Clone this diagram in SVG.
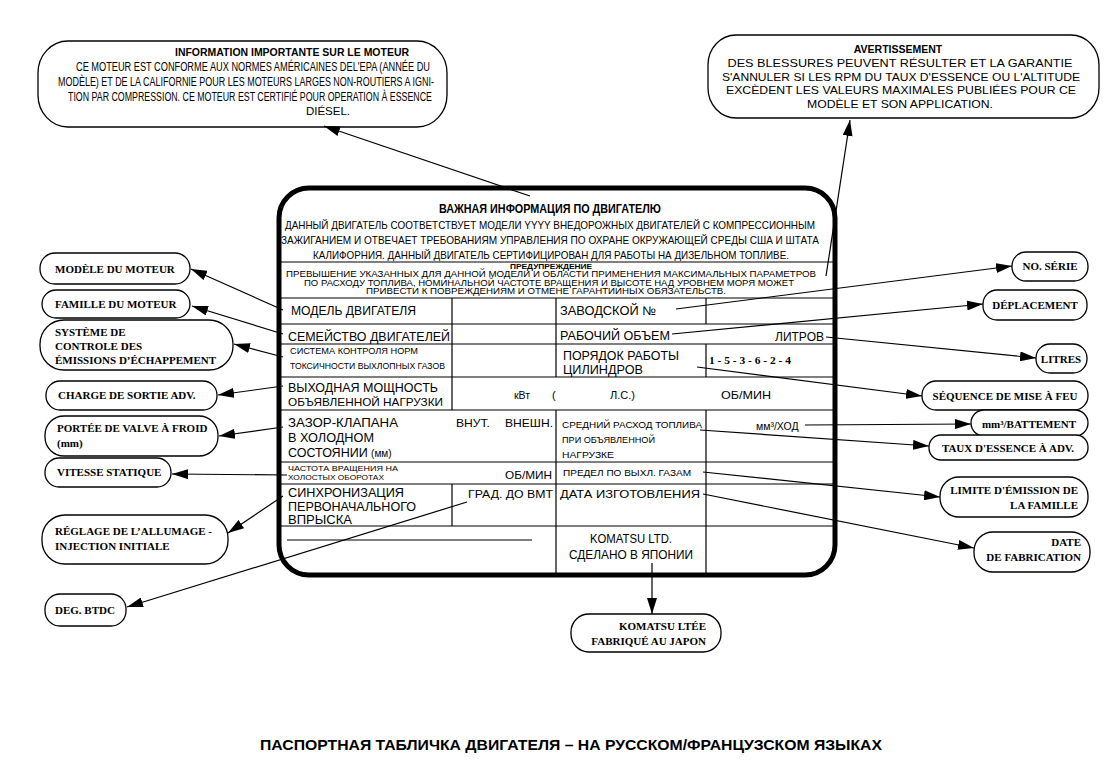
<svg xmlns="http://www.w3.org/2000/svg" width="1111" height="777" viewBox="0 0 1111 777">
<defs>
<marker id="ah" viewBox="0 0 16 10" refX="16" refY="5" markerWidth="16" markerHeight="10" markerUnits="userSpaceOnUse" orient="auto"><path d="M0,0 L16,5 L0,10 z" fill="#000"/></marker>
<style>
.bub{fill:#fff;stroke:#000;stroke-width:1.3}
.plate{fill:#fff;stroke:#000;stroke-width:5}
.rl{stroke:#000;stroke-width:1.2;fill:none}
.con{stroke:#000;stroke-width:1.2;fill:none;marker-end:url(#ah)}
.s{font-family:"Liberation Sans",Arial,sans-serif;fill:#000}
.sb{font-family:"Liberation Sans",Arial,sans-serif;font-weight:bold;fill:#000}
.f{font-family:"Liberation Serif","Times New Roman",serif;font-weight:bold;font-size:11px;fill:#000}
.m{text-anchor:middle}
.e{text-anchor:end}
</style>
</defs>
<rect width="1111" height="777" fill="#fff"/>

<g id="info-fr">
<rect class="bub" x="38" y="41" width="409" height="86" rx="30" ry="32"/>
<text class="sb m" x="292" y="56" font-size="11" textLength="234" lengthAdjust="spacingAndGlyphs">INFORMATION IMPORTANTE SUR LE MOTEUR</text>
<text class="s" x="76" y="71" font-size="12" textLength="354" lengthAdjust="spacingAndGlyphs">CE MOTEUR EST CONFORME AUX NORMES AMÉRICAINES DEL'EPA (ANNÉE DU</text>
<text class="s" x="58" y="86" font-size="12" textLength="376" lengthAdjust="spacingAndGlyphs">MODÈLE) ET DE LA CALIFORNIE POUR LES MOTEURS LARGES NON-ROUTIERS A IGNI-</text>
<text class="s" x="68" y="101" font-size="12" textLength="364" lengthAdjust="spacingAndGlyphs">TION PAR COMPRESSION.  CE MOTEUR EST CERTIFIÉ POUR OPERATION À ESSENCE</text>
<text class="s m" x="328" y="115" font-size="11.5">DIÉSEL.</text>
</g>

<g id="avert-fr">
<rect class="bub" x="708" y="35" width="391" height="83" rx="28" ry="30"/>
<text class="sb m" x="898" y="53" font-size="10.5">AVERTISSEMENT</text>
<text class="s m" x="900" y="67" font-size="11.5" textLength="345" lengthAdjust="spacingAndGlyphs">DES BLESSURES PEUVENT RÉSULTER ET LA GARANTIE</text>
<text class="s m" x="901" y="81" font-size="11.5" textLength="358" lengthAdjust="spacingAndGlyphs">S'ANNULER SI LES RPM DU TAUX D'ESSENCE OU L'ALTITUDE</text>
<text class="s m" x="901" y="94" font-size="11.5" textLength="350" lengthAdjust="spacingAndGlyphs">EXCÈDENT LES VALEURS MAXIMALES PUBLIÉES POUR CE</text>
<text class="s m" x="900" y="108" font-size="11.5" textLength="186" lengthAdjust="spacingAndGlyphs">MODÈLE ET SON APPLICATION.</text>
</g>

<g id="plate">
<rect class="plate" x="279" y="188" width="556" height="387" rx="30" ry="30"/>
<text class="sb m" x="550" y="213" font-size="12.5" textLength="222" lengthAdjust="spacingAndGlyphs">ВАЖНАЯ ИНФОРМАЦИЯ ПО ДВИГАТЕЛЮ</text>
<text class="s m" x="550" y="229" font-size="10.5" textLength="530" lengthAdjust="spacingAndGlyphs">ДАННЫЙ ДВИГАТЕЛЬ СООТВЕТСТВУЕТ МОДЕЛИ YYYY ВНЕДОРОЖНЫХ ДВИГАТЕЛЕЙ С КОМПРЕССИОННЫМ</text>
<text class="s m" x="550" y="244" font-size="10.5" textLength="538" lengthAdjust="spacingAndGlyphs">ЗАЖИГАНИЕМ И ОТВЕЧАЕТ ТРЕБОВАНИЯМ УПРАВЛЕНИЯ ПО ОХРАНЕ ОКРУЖАЮЩЕЙ СРЕДЫ США И ШТАТА</text>
<text class="s m" x="551" y="259" font-size="10.5" textLength="476" lengthAdjust="spacingAndGlyphs">КАЛИФОРНИЯ. ДАННЫЙ ДВИГАТЕЛЬ СЕРТИФИЦИРОВАН ДЛЯ РАБОТЫ НА ДИЗЕЛЬНОМ ТОПЛИВЕ.</text>
<line class="rl" x1="281" y1="262" x2="833" y2="262"/>
<text class="sb m" x="551" y="269" font-size="8" textLength="82" lengthAdjust="spacingAndGlyphs">ПРЕДУПРЕЖДЕНИЕ</text>
<text class="s m" x="551" y="277" font-size="8.5" textLength="530" lengthAdjust="spacingAndGlyphs">ПРЕВЫШЕНИЕ УКАЗАННЫХ ДЛЯ ДАННОЙ МОДЕЛИ И ОБЛАСТИ ПРИМЕНЕНИЯ МАКСИМАЛЬНЫХ ПАРАМЕТРОВ</text>
<text class="s m" x="549" y="285.5" font-size="8.5" textLength="490" lengthAdjust="spacingAndGlyphs">ПО РАСХОДУ ТОПЛИВА, НОМИНАЛЬНОЙ ЧАСТОТЕ ВРАЩЕНИЯ И ВЫСОТЕ НАД УРОВНЕМ МОРЯ МОЖЕТ</text>
<text class="s m" x="546" y="294" font-size="8.5" textLength="360" lengthAdjust="spacingAndGlyphs">ПРИВЕСТИ К ПОВРЕЖДЕНИЯМ И ОТМЕНЕ ГАРАНТИЙНЫХ ОБЯЗАТЕЛЬСТВ.</text>

<line class="rl" x1="281" y1="298" x2="833" y2="298"/>
<line class="rl" x1="281" y1="324" x2="833" y2="324"/>
<line class="rl" x1="281" y1="344" x2="833" y2="344"/>
<line class="rl" x1="281" y1="377" x2="833" y2="377"/>
<line class="rl" x1="281" y1="410" x2="833" y2="410"/>
<line class="rl" x1="281" y1="462" x2="833" y2="462"/>
<line class="rl" x1="281" y1="484" x2="833" y2="484"/>
<line class="rl" x1="281" y1="526" x2="833" y2="526"/>
<line class="rl" x1="287" y1="540" x2="532" y2="540"/>
<line class="rl" x1="452" y1="298" x2="452" y2="410"/>
<line class="rl" x1="452" y1="484" x2="452" y2="526"/>
<line class="rl" x1="556" y1="298" x2="556" y2="377"/>
<line class="rl" x1="556" y1="410" x2="556" y2="573"/>
<line class="rl" x1="706" y1="298" x2="706" y2="324"/>
<line class="rl" x1="706" y1="344" x2="706" y2="377"/>
<line class="rl" x1="706" y1="410" x2="706" y2="573"/>

<text class="s" x="291" y="315" font-size="12.5" textLength="125" lengthAdjust="spacingAndGlyphs">МОДЕЛЬ ДВИГАТЕЛЯ</text>
<text class="s" x="560" y="315" font-size="12.5" textLength="96" lengthAdjust="spacingAndGlyphs">ЗАВОДСКОЙ №</text>
<text class="s" x="288" y="341" font-size="12.5" textLength="162" lengthAdjust="spacingAndGlyphs">СЕМЕЙСТВО ДВИГАТЕЛЕЙ</text>
<text class="s" x="560" y="340" font-size="12.5" textLength="110" lengthAdjust="spacingAndGlyphs">РАБОЧИЙ ОБЪЕМ</text>
<text class="s e" x="824" y="341" font-size="12.5" textLength="49" lengthAdjust="spacingAndGlyphs">ЛИТРОВ</text>
<text class="s" x="290" y="354" font-size="8.5" textLength="128" lengthAdjust="spacingAndGlyphs">СИСТЕМА КОНТРОЛЯ НОРМ</text>
<text class="s" x="290" y="369" font-size="8.5" textLength="155" lengthAdjust="spacingAndGlyphs">ТОКСИЧНОСТИ ВЫХЛОПНЫХ ГАЗОВ</text>
<text class="s" x="563" y="360" font-size="12.5" textLength="116" lengthAdjust="spacingAndGlyphs">ПОРЯДОК РАБОТЫ</text>
<text class="s" x="563" y="374" font-size="12.5" textLength="80" lengthAdjust="spacingAndGlyphs">ЦИЛИНДРОВ</text>
<text class="f" x="709" y="364" textLength="82" lengthAdjust="spacingAndGlyphs">1 - 5 - 3 - 6 - 2 - 4</text>
<text class="s" x="288" y="392" font-size="13" textLength="150" lengthAdjust="spacingAndGlyphs">ВЫХОДНАЯ МОЩНОСТЬ</text>
<text class="s" x="288" y="406" font-size="11" textLength="155" lengthAdjust="spacingAndGlyphs">ОБЪЯВЛЕННОЙ НАГРУЗКИ</text>
<text class="s" x="514" y="399" font-size="10.5">кВт</text>
<text class="s" x="552" y="399" font-size="11">(</text>
<text class="s" x="610" y="399" font-size="11">Л.С.)</text>
<text class="s" x="721" y="399" font-size="11" textLength="50" lengthAdjust="spacingAndGlyphs">ОБ/МИН</text>
<text class="s" x="288" y="427" font-size="12.5" textLength="110" lengthAdjust="spacingAndGlyphs">ЗАЗОР-КЛАПАНА</text>
<text class="s" x="288" y="442" font-size="12.5" textLength="86" lengthAdjust="spacingAndGlyphs">В ХОЛОДНОМ</text>
<text class="s" x="288" y="457" font-size="12.5">СОСТОЯНИИ <tspan font-size="10">(мм)</tspan></text>
<text class="s" x="456" y="427" font-size="11.5" textLength="34" lengthAdjust="spacingAndGlyphs">ВНУТ.</text>
<text class="s" x="505" y="427" font-size="11.5" textLength="48" lengthAdjust="spacingAndGlyphs">ВНЕШН.</text>
<text class="s" x="562" y="428" font-size="8.5" textLength="140" lengthAdjust="spacingAndGlyphs">СРЕДНИЙ РАСХОД ТОПЛИВА</text>
<text class="s" x="562" y="443" font-size="8.5" textLength="93" lengthAdjust="spacingAndGlyphs">ПРИ ОБЪЯВЛЕННОЙ</text>
<text class="s" x="562" y="458" font-size="8.5" textLength="52" lengthAdjust="spacingAndGlyphs">НАГРУЗКЕ</text>
<text class="s" x="756" y="430" font-size="10.5">мм³/ХОД</text>
<text class="s" x="288" y="470.5" font-size="7" textLength="110" lengthAdjust="spacingAndGlyphs">ЧАСТОТА ВРАЩЕНИЯ НА</text>
<text class="s" x="288" y="479.5" font-size="7" textLength="96" lengthAdjust="spacingAndGlyphs">ХОЛОСТЫХ ОБОРОТАХ</text>
<text class="s" x="505" y="479" font-size="11" textLength="47" lengthAdjust="spacingAndGlyphs">ОБ/МИН</text>
<text class="s" x="563" y="476" font-size="8.5" textLength="128" lengthAdjust="spacingAndGlyphs">ПРЕДЕЛ ПО ВЫХЛ. ГАЗАМ</text>
<text class="s" x="288" y="497" font-size="12" textLength="116" lengthAdjust="spacingAndGlyphs">СИНХРОНИЗАЦИЯ</text>
<text class="s" x="288" y="511" font-size="12" textLength="128" lengthAdjust="spacingAndGlyphs">ПЕРВОНАЧАЛЬНОГО</text>
<text class="s" x="288" y="524" font-size="12" textLength="64" lengthAdjust="spacingAndGlyphs">ВПРЫСКА</text>
<text class="s" x="468" y="498" font-size="11.5" textLength="85" lengthAdjust="spacingAndGlyphs">ГРАД. ДО ВМТ</text>
<text class="s" x="560" y="498" font-size="11.5" textLength="140" lengthAdjust="spacingAndGlyphs">ДАТА ИЗГОТОВЛЕНИЯ</text>
<text class="s m" x="631" y="543" font-size="12" textLength="82" lengthAdjust="spacingAndGlyphs">KOMATSU LTD.</text>
<text class="s m" x="631" y="559" font-size="12" textLength="124" lengthAdjust="spacingAndGlyphs">СДЕЛАНО В ЯПОНИИ</text>
</g>

<g id="modele"><rect class="bub" x="40" y="253" width="150" height="31" rx="15"/><text class="f" x="55" y="273">MODÈLE DU MOTEUR</text></g>
<g id="famille"><rect class="bub" x="42" y="290" width="148" height="28" rx="14"/><text class="f" x="55" y="308">FAMILLE DU MOTEUR</text></g>
<g id="systeme"><rect class="bub" x="40" y="320" width="193" height="50" rx="24"/><text class="f" x="55" y="336">SYSTÈME DE</text><text class="f" x="55" y="350">CONTROLE DES</text><text class="f" x="55" y="364">ÉMISSIONS D’ÉCHAPPEMENT</text></g>
<g id="charge"><rect class="bub" x="46" y="381" width="171" height="29" rx="14"/><text class="f" x="58" y="399">CHARGE DE SORTIE ADV.</text></g>
<g id="portee"><rect class="bub" x="45" y="416" width="173" height="40" rx="19"/><text class="f" x="57" y="432">PORTÉE DE VALVE À FROID</text><text class="f" x="57" y="447">(mm)</text></g>
<g id="vitesse"><rect class="bub" x="45" y="458" width="126" height="29" rx="14"/><text class="f" x="57" y="476">VITESSE STATIQUE</text></g>
<g id="reglage"><rect class="bub" x="42" y="515" width="186" height="49" rx="23"/><text class="f" x="55" y="535">RÉGLAGE DE L’ALLUMAGE -</text><text class="f" x="55" y="550">INJECTION INITIALE</text></g>
<g id="deg"><rect class="bub" x="45" y="594" width="81" height="32" rx="15"/><text class="f" x="55" y="614">DEG. BTDC</text></g>

<g id="serie"><rect class="bub" x="1012" y="252" width="76" height="29" rx="14"/><text class="f m" x="1050" y="270">NO. SÉRIE</text></g>
<g id="deplacement"><rect class="bub" x="983" y="290" width="104" height="30" rx="14"/><text class="f m" x="1035" y="309">DÉPLACEMENT</text></g>
<g id="litres"><rect class="bub" x="1036" y="344" width="51" height="29" rx="14"/><text class="f m" x="1061" y="363">LITRES</text></g>
<g id="sequence"><rect class="bub" x="922" y="381" width="166" height="29" rx="14"/><text class="f m" x="1005" y="400">SÉQUENCE DE MISE À FEU</text></g>
<g id="battement"><rect class="bub" x="971" y="410" width="117" height="26" rx="13"/><text class="f m" x="1029" y="428">mm³/BATTEMENT</text></g>
<g id="taux"><rect class="bub" x="929" y="435" width="159" height="25" rx="12"/><text class="f m" x="1008" y="452">TAUX D'ESSENCE  À ADV.</text></g>
<g id="limite"><rect class="bub" x="940" y="477" width="148" height="40" rx="19"/><text class="f e" x="1078" y="494">LIMITE D'ÉMISSION DE</text><text class="f e" x="1078" y="509">LA FAMILLE</text></g>
<g id="date"><rect class="bub" x="974" y="532" width="116" height="40" rx="19"/><text class="f e" x="1081" y="546">DATE</text><text class="f e" x="1081" y="561">DE FABRICATION</text></g>
<g id="komatsu"><rect class="bub" x="571" y="614" width="150" height="38" rx="18"/><text class="f e" x="706" y="630">KOMATSU LTÉE</text><text class="f e" x="706" y="645">FABRIQUÉ AU JAPON</text></g>

<g id="connectors">
<line class="con" x1="530" y1="196" x2="324" y2="126"/>
<line class="con" x1="826" y1="276" x2="850" y2="120"/>
<line class="con" x1="283" y1="310" x2="191" y2="269"/>
<line class="con" x1="283" y1="334" x2="192" y2="306"/>
<line class="con" x1="283" y1="357" x2="234" y2="344"/>
<line class="con" x1="283" y1="386" x2="218" y2="395"/>
<line class="con" x1="283" y1="427" x2="219" y2="436"/>
<line class="con" x1="287" y1="475" x2="172" y2="474"/>
<line class="con" x1="283" y1="496" x2="228" y2="533"/>
<line class="con" x1="467" y1="502" x2="127" y2="607"/>
<line class="con" x1="676" y1="309" x2="1012" y2="266"/>
<line class="con" x1="672" y1="334" x2="983" y2="304"/>
<line class="con" x1="826" y1="337" x2="1036" y2="358"/>
<line class="con" x1="697" y1="367" x2="922" y2="396"/>
<line class="con" x1="805" y1="425" x2="971" y2="424"/>
<line class="con" x1="700" y1="430" x2="929" y2="446"/>
<line class="con" x1="703" y1="472" x2="940" y2="497"/>
<line class="con" x1="703" y1="494" x2="974" y2="548"/>
<line class="con" x1="652" y1="563" x2="652" y2="614"/>
</g>

<text id="caption" class="sb" x="260" y="750" font-size="14" textLength="622" lengthAdjust="spacingAndGlyphs">ПАСПОРТНАЯ ТАБЛИЧКА ДВИГАТЕЛЯ – НА РУССКОМ/ФРАНЦУЗСКОМ ЯЗЫКАХ</text>
</svg>
